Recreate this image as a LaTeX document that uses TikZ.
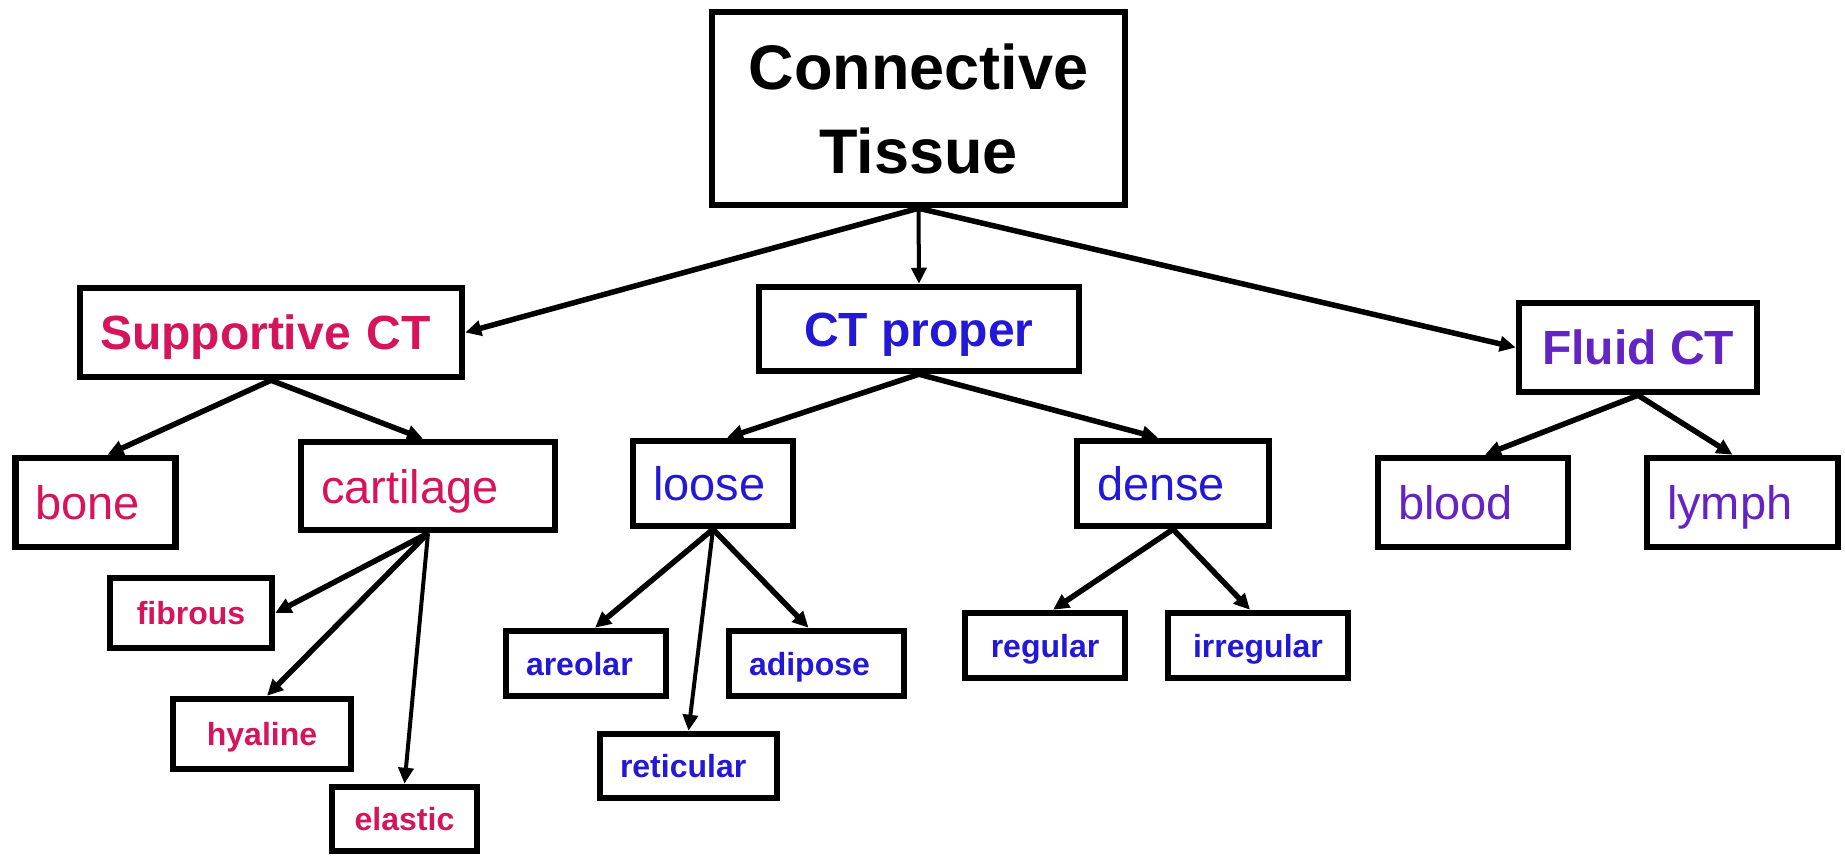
\documentclass[tikz,border=0pt]{standalone}
\usepackage{fontspec}
\setmainfont{Liberation Sans}
\usetikzlibrary{arrows.meta}
\definecolor{suppink}{RGB}{214,20,92}
\definecolor{propblue}{RGB}{34,24,214}
\definecolor{fluidviolet}{RGB}{100,36,196}
\begin{document}
\begin{tikzpicture}[x=1pt,y=-1pt,
    >={Triangle[length=16pt,width=15pt]},
    tbox/.style={draw=black, line width=6.5pt, fill=white, inner xsep=20pt, inner ysep=0pt, text depth=0pt},
    lbox/.style={tbox, align=left},
    big/.style={font=\bfseries\fontsize{48}{58}\selectfont, text height=34pt},
    mid/.style={font=\fontsize{47}{56}\selectfont, text height=34pt},
    small/.style={font=\bfseries\fontsize{32}{38}\selectfont, text height=23pt},
    conn/.style={->, line width=5.5pt}]
  \useasboundingbox (0,0) rectangle (1845,855);
  % root
  \node[tbox, align=center, minimum width=413, minimum height=193,
        font=\bfseries\fontsize{63}{84}\selectfont] (ct) at (918.5,108.5) {Connective\\Tissue};
  % first level
  \node[lbox, big, text=suppink, text width=342, minimum height=89] (sup) at (271,332.5) {Supportive CT};
  \node[tbox, big, text=propblue, minimum width=320, minimum height=84] (prop) at (919,329) {CT proper};
  \node[tbox, big, text=fluidviolet, minimum width=238, minimum height=89] (fluid) at (1638,347.5) {Fluid CT};
  % second level
  \node[lbox, mid, text=suppink, text width=120, minimum height=89] (bone) at (95.5,502.5) {bone};
  \node[lbox, mid, text=suppink, text width=214, minimum height=88] (cart) at (428,486) {cartilage};
  \node[lbox, mid, text=propblue, text width=120, minimum height=85] (loose) at (713,483.5) {loose};
  \node[lbox, mid, text=propblue, text width=152, minimum height=85] (dense) at (1173,483.5) {dense};
  \node[lbox, mid, text=fluidviolet, text width=150, minimum height=89] (blood) at (1473,502.5) {blood};
  \node[lbox, mid, text=fluidviolet, text width=151, minimum height=89] (lymph) at (1742.5,502.5) {lymph};
  % cartilage types
  \node[tbox, small, text=suppink, minimum width=162, minimum height=70] (fib) at (191,613) {fibrous};
  \node[tbox, small, text=suppink, minimum width=178, minimum height=70] (hya) at (262,734) {hyaline};
  \node[tbox, small, text=suppink, minimum width=145, minimum height=64] (ela) at (404.5,819) {elastic};
  % loose and dense types
  \node[lbox, small, text=propblue, text width=120, minimum height=65] (are) at (586,663.5) {areolar};
  \node[lbox, small, text=propblue, text width=135, minimum height=65] (adi) at (816.5,663.5) {adipose};
  \node[lbox, small, text=propblue, text width=137, minimum height=64] (ret) at (688.5,766) {reticular};
  \node[tbox, small, text=propblue, minimum width=160, minimum height=65] (reg) at (1045,645.5) {regular};
  \node[tbox, small, text=propblue, minimum width=180, minimum height=65] (irr) at (1258,645.5) {irregular};
  % arrows
  \draw[conn] (ct.south) -- (sup.east);
  \draw[conn, line width=4pt] (ct.south) -- (prop.north);
  \draw[conn] (ct.south) -- (fluid.west);
  \draw[conn] (sup.south) -- ([xshift=12pt]bone.north);
  \draw[conn] (sup.south) -- ([xshift=-5pt]cart.north);
  \draw[conn] (prop.south) -- ([xshift=14pt]loose.north);
  \draw[conn] (prop.south) -- ([xshift=-15pt]dense.north);
  \draw[conn] (fluid.south) -- ([xshift=12pt]blood.north);
  \draw[conn] (fluid.south) -- ([xshift=-10pt]lymph.north);
  \draw[conn] (cart.south) -- (fib.east);
  \draw[conn] (cart.south) -- ([xshift=5pt]hya.north);
  \draw[conn, line width=4pt] (cart.south) -- (ela.north);
  \draw[conn] (loose.south) -- ([xshift=9pt]are.north);
  \draw[conn, line width=4pt] (loose.south) -- (ret.north);
  \draw[conn] (loose.south) -- ([xshift=-8pt]adi.north);
  \draw[conn] (dense.south) -- ([xshift=8pt]reg.north);
  \draw[conn] (dense.south) -- ([xshift=-8pt]irr.north);
\end{tikzpicture}
\end{document}
